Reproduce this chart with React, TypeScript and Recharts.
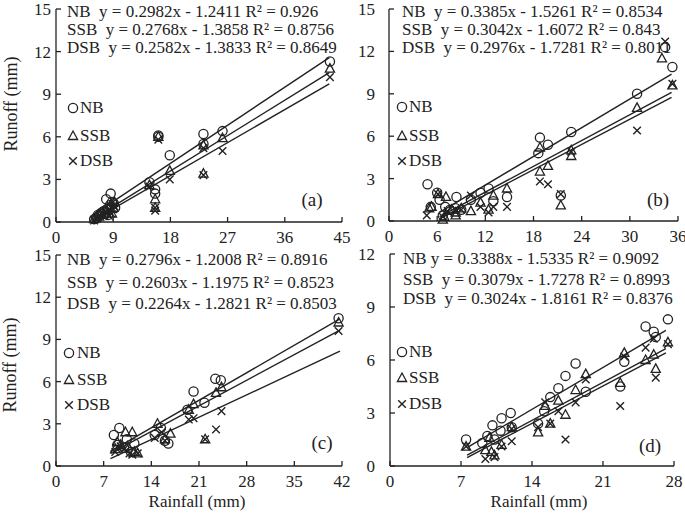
import React from "react";
import { ScatterChart, Scatter, XAxis, YAxis } from "recharts";

type P = [number, number];

// panel (a)
const aNB: P[] = [[43.1,11.3],[26.2,6.4],[23.2,6.2],[23.2,5.5],[16.1,6.1],[16.1,6.0],[17.9,4.7],[15.6,2.3],[15.6,2.0],[14.7,2.8],[8.6,2.0],[7.9,1.6],[6.0,0.2],[6.3,0.3],[6.6,0.5],[7.0,0.6],[7.3,0.7],[7.6,0.8],[8.0,0.9],[8.5,1.2],[8.8,1.4],[9.1,1.3],[9.3,1.0],[8.2,0.5]];
const aSSB: P[] = [[43.1,10.8],[26.2,5.9],[23.2,5.4],[23.2,3.4],[16.1,6.0],[17.9,3.6],[15.6,1.6],[15.6,1.0],[14.7,2.6],[8.6,1.2],[6.0,0.2],[6.5,0.35],[7.0,0.5],[7.5,0.6],[8.0,0.8],[9.0,1.0],[9.2,1.4],[8.8,0.6]];
const aDSB: P[] = [[43.1,10.2],[26.2,5.0],[23.2,5.2],[23.2,3.3],[16.1,5.8],[17.9,3.0],[15.6,0.8],[15.6,1.0],[14.7,2.5],[6.0,0.1],[6.5,0.25],[7.0,0.35],[7.5,0.5],[8.0,0.6],[8.7,0.6],[9.0,0.9],[9.2,1.1],[8.4,0.4]];
const aFits: P[][] = [[[6,0.55],[43,11.58]],[[6,0.27],[43,10.52]],[[6,0.17],[43,9.72]]];
const aEq = ["NB  y = 0.2982x - 1.2411 R² = 0.926", "SSB  y = 0.2768x - 1.3858 R² = 0.8756", "DSB  y = 0.2582x - 1.3833 R² = 0.8649"];

// panel (b)
const bNB: P[] = [[35.3,10.9],[34.4,12.3],[30.9,9.0],[22.7,6.3],[19.8,5.4],[18.8,5.9],[18.6,4.8],[21.4,1.8],[14.7,1.7],[12.4,2.3],[11.4,2.0],[13.0,1.4],[8.4,1.7],[4.8,2.6],[6.0,2.0],[6.3,1.5],[5.2,1.0],[7.0,1.0],[7.6,0.8],[8.3,0.9],[9.0,0.8],[10.2,1.5],[6.7,0.4]];
const bSSB: P[] = [[34.0,11.5],[35.3,9.6],[30.9,8.0],[22.7,4.6],[22.7,5.0],[19.8,3.9],[18.8,5.2],[18.8,3.5],[21.4,1.1],[14.7,2.3],[13.0,1.8],[12.4,0.8],[11.4,1.3],[10.2,0.7],[8.3,0.6],[8.3,0.4],[6.7,0.1],[6.9,0.3],[7.1,1.7],[6.1,1.9],[5.3,1.0],[5.0,0.9],[9.0,0.9],[7.8,0.8]];
const bDSB: P[] = [[34.4,12.7],[35.3,9.7],[30.9,6.4],[22.7,4.9],[19.8,2.6],[18.8,2.8],[21.4,1.9],[14.7,1.0],[13.0,1.0],[12.4,0.6],[11.4,1.0],[10.2,1.8],[8.3,0.8],[9.0,0.8],[6.7,0.3],[6.1,1.9],[4.7,0.4],[7.3,0.7]];
const bFits: P[][] = [[[6.3,0.61],[35.2,10.39]],[[6.3,0.31],[35.2,9.1]],[[6.3,0.15],[35.2,8.75]]];
const bEq = ["NB  y = 0.3385x - 1.5261 R² = 0.8534", "SSB  y = 0.3042x - 1.6072 R² = 0.843", "DSB  y = 0.2976x - 1.7281 R² = 0.8011"];

// panel (c)
const cNB: P[] = [[41.5,10.5],[23.4,6.2],[24.2,6.1],[20.2,5.3],[21.8,4.5],[19.3,4.0],[15.4,2.7],[16.5,1.6],[16.0,1.8],[14.5,2.2],[9.3,2.7],[8.5,2.2],[10.4,1.9],[11.5,1.6],[9.0,1.5],[10.0,1.3],[11.0,1.0]];
const cSSB: P[] = [[41.5,10.2],[24.3,5.6],[23.5,5.2],[20.2,4.4],[19.5,4.0],[21.9,1.9],[14.9,3.0],[16.8,2.3],[16.0,1.9],[11.2,2.4],[10.2,2.4],[9.0,1.7],[8.7,1.2],[9.5,1.5],[10.5,1.4],[11.5,1.0],[12.0,0.9]];
const cDSB: P[] = [[41.5,9.6],[24.3,3.9],[23.5,2.6],[20.2,3.4],[19.5,3.3],[21.9,1.9],[15.5,2.4],[14.5,2.0],[16.0,1.8],[8.7,1.0],[9.2,1.3],[10.0,1.2],[10.8,0.9],[11.2,0.8],[12.0,0.9],[9.5,1.4]];
const cFits: P[][] = [[[8,1.04],[41.7,10.46]],[[8,0.89],[41.7,9.66]],[[8,0.53],[41.7,8.16]]];
const cEq = ["NB  y = 0.2796x - 1.2008 R² = 0.8916", "SSB  y = 0.2603x - 1.1975 R² = 0.8523", "DSB  y = 0.2264x - 1.2821 R² = 0.8503"];

// panel (d)
const dNB: P[] = [[27.4,8.3],[25.2,7.9],[26.0,7.6],[26.2,7.3],[23.1,5.9],[22.7,4.5],[18.3,5.8],[17.3,5.1],[16.6,4.4],[19.3,4.2],[15.8,3.9],[15.2,3.1],[14.6,2.4],[11.9,3.0],[11.0,2.7],[10.9,2.0],[10.1,2.3],[9.6,1.7],[9.1,1.3],[7.5,1.5],[12.0,2.2],[10.3,1.5]];
const dSSB: P[] = [[27.4,7.0],[25.2,6.0],[26.0,6.3],[26.2,5.5],[23.1,6.4],[22.7,4.7],[19.3,5.2],[18.3,4.3],[17.3,2.9],[16.6,3.7],[15.3,3.4],[15.8,2.4],[14.6,1.9],[12.0,2.2],[11.0,1.2],[10.3,0.6],[10.0,0.8],[9.8,1.6],[7.5,1.1],[9.4,0.9]];
const dDSB: P[] = [[27.4,6.9],[25.2,6.7],[26.0,7.2],[26.2,5.0],[22.7,3.4],[19.3,4.9],[18.3,3.6],[17.3,1.5],[16.6,3.1],[15.3,3.6],[15.8,2.4],[14.6,2.2],[12.0,1.4],[11.0,1.1],[10.3,0.5],[9.4,0.4],[7.5,1.1],[12.0,2.1],[23.1,6.2]];
const dFits: P[][] = [[[7.6,1.04],[27.2,7.68]],[[7.6,0.61],[27.2,6.65]],[[7.6,0.48],[27.2,6.41]]];
const dEq = ["NB y = 0.3388x - 1.5335 R² = 0.9092", "SSB  y = 0.3079x - 1.7278 R² = 0.8993", "DSB  y = 0.3024x - 1.8161 R² = 0.8376"];

const legendNames = ["NB", "SSB", "DSB"];

const INK = "#222";
const FONT = '"Liberation Serif", "Times New Roman", serif';

const toObj = (arr: P[]) => arr.map(([x, y]) => ({ x, y }));

const Circle = (p: any) => <circle cx={p.cx} cy={p.cy} r={4.6} fill="none" stroke={INK} strokeWidth={1.3} />;
const Tri = (p: any) => (
  <polygon
    points={`${p.cx},${p.cy - 5} ${p.cx + 4.6},${p.cy + 3.5} ${p.cx - 4.6},${p.cy + 3.5}`}
    fill="none"
    stroke={INK}
    strokeWidth={1.3}
  />
);
const Cross = (p: any) => (
  <path
    d={`M${p.cx - 3.8},${p.cy - 3.8}L${p.cx + 3.8},${p.cy + 3.8}M${p.cx - 3.8},${p.cy + 3.8}L${p.cx + 3.8},${p.cy - 3.8}`}
    stroke={INK}
    strokeWidth={1.4}
  />
);
const Nothing = () => <g />;

const markers = [Circle, Tri, Cross];

function MarkerIcon({ kind }: { kind: number }) {
  const M = markers[kind];
  return (
    <svg width={12} height={12} style={{ position: "absolute", left: -6, top: -6, overflow: "visible" }}>
      <M cx={6} cy={6} />
    </svg>
  );
}

interface PanelProps {
  left: number;
  top: number;
  width: number;
  height: number;
  margin: { top: number; right: number; bottom: number; left: number };
  yWidth: number;
  xHeight: number;
  xMax: number;
  xTicks: number[];
  yMax: number;
  yTicks: number[];
  yGap: number;
  series: P[][];
  fits: P[][];
}

function Panel(props: PanelProps) {
  const { left, top, width, height, margin, yWidth, xHeight, xMax, xTicks, yMax, yTicks, yGap, series, fits } = props;
  const tickStyle = { fill: INK, fontSize: 17, fontFamily: FONT };
  return (
    <div style={{ position: "absolute", left, top }}>
      <ScatterChart width={width} height={height} margin={margin}>
        <XAxis
          type="number"
          dataKey="x"
          domain={[0, xMax]}
          ticks={xTicks}
          interval={0}
          height={xHeight}
          tickSize={-5}
          tickMargin={14}
          stroke={INK}
          strokeWidth={1.3}
          tick={tickStyle}
        />
        <YAxis
          type="number"
          dataKey="y"
          domain={[0, yMax]}
          ticks={yTicks}
          interval={0}
          width={yWidth}
          tickSize={-5}
          tickMargin={5 + yGap}
          stroke={INK}
          strokeWidth={1.3}
          tick={tickStyle}
        />
        {fits.map((f, i) => (
          <Scatter
            key={"fit" + i}
            data={toObj(f)}
            line={{ stroke: INK, strokeWidth: 1.4 }}
            shape={Nothing}
            isAnimationActive={false}
          />
        ))}
        {series.map((s, i) => (
          <Scatter key={"s" + i} data={toObj(s)} shape={markers[i]} isAnimationActive={false} />
        ))}
      </ScatterChart>
    </div>
  );
}

const textBase: React.CSSProperties = {
  position: "absolute",
  whiteSpace: "pre",
  fontFamily: FONT,
  color: INK,
  lineHeight: "20px",
  height: 20,
};

function Equations({ x, ys, lines }: { x: number; ys: number[]; lines: string[] }) {
  return (
    <>
      {lines.map((t, i) => (
        <div key={i} style={{ ...textBase, left: x, top: ys[i] - 10, fontSize: 17 }}>
          {t}
        </div>
      ))}
    </>
  );
}

function Legend({ mx, tx, ys }: { mx: number; tx: number; ys: number[] }) {
  return (
    <>
      {legendNames.map((n, i) => (
        <React.Fragment key={n}>
          <div style={{ position: "absolute", left: mx, top: ys[i] }}>
            <MarkerIcon kind={i} />
          </div>
          <div style={{ ...textBase, left: tx, top: ys[i] - 10, fontSize: 17 }}>{n}</div>
        </React.Fragment>
      ))}
    </>
  );
}

function Tag({ cx, cy, text }: { cx: number; cy: number; text: string }) {
  return (
    <div style={{ ...textBase, left: cx - 20, width: 40, textAlign: "center", top: cy - 11, fontSize: 19, lineHeight: "22px" }}>
      {text}
    </div>
  );
}

function YTitle({ cx, cy }: { cx: number; cy: number }) {
  return (
    <div
      style={{
        ...textBase,
        left: cx - 70,
        top: cy - 10,
        width: 140,
        textAlign: "center",
        fontSize: 18,
        transform: "rotate(-90deg)",
        transformOrigin: "50% 50%",
      }}
    >
      Runoff (mm)
    </div>
  );
}

function XTitle({ cx, cy }: { cx: number; cy: number }) {
  return (
    <div style={{ ...textBase, left: cx - 70, top: cy - 10, width: 140, textAlign: "center", fontSize: 17 }}>
      Rainfall (mm)
    </div>
  );
}

export default function App() {
  return (
    <div style={{ position: "absolute", left: 0, top: 0, width: 685, height: 516, background: "#fff", fontFamily: FONT, overflow: "hidden" }}>
      <style>{".recharts-surface{overflow:visible}"}</style>
      <Panel
        left={0}
        top={0}
        width={345}
        height={250}
        margin={{ top: 9, right: 3, bottom: 0, left: 0 }}
        yWidth={56}
        xHeight={28}
        xMax={45}
        xTicks={[0, 9, 18, 27, 36, 45]}
        yMax={15}
        yTicks={[0, 3, 6, 9, 12, 15]}
        yGap={5}
        series={[aNB, aSSB, aDSB]}
        fits={aFits}
      />
      <Panel
        left={345}
        top={0}
        width={340}
        height={250}
        margin={{ top: 9, right: 7, bottom: 0, left: 0 }}
        yWidth={44}
        xHeight={29}
        xMax={36}
        xTicks={[0, 6, 12, 18, 24, 30, 36]}
        yMax={15}
        yTicks={[0, 3, 6, 9, 12, 15]}
        yGap={14}
        series={[bNB, bSSB, bDSB]}
        fits={bFits}
      />
      <Panel
        left={0}
        top={250}
        width={345}
        height={266}
        margin={{ top: 5, right: 3, bottom: 0, left: 0 }}
        yWidth={56}
        xHeight={50}
        xMax={42}
        xTicks={[0, 7, 14, 21, 28, 35, 42]}
        yMax={15}
        yTicks={[0, 3, 6, 9, 12, 15]}
        yGap={5}
        series={[cNB, cSSB, cDSB]}
        fits={cFits}
      />
      <Panel
        left={345}
        top={250}
        width={340}
        height={266}
        margin={{ top: 4, right: 11, bottom: 0, left: 0 }}
        yWidth={45}
        xHeight={50}
        xMax={28}
        xTicks={[0, 7, 14, 21, 28]}
        yMax={12}
        yTicks={[0, 3, 6, 9, 12]}
        yGap={15}
        series={[dNB, dSSB, dDSB]}
        fits={dFits}
      />

      <Equations x={67} ys={[12, 30, 48]} lines={aEq} />
      <Equations x={402} ys={[12, 30, 48]} lines={bEq} />
      <Equations x={67} ys={[260, 283, 304]} lines={cEq} />
      <Equations x={403} ys={[259, 280, 299]} lines={dEq} />

      <Legend mx={73} tx={80} ys={[108, 136, 161]} />
      <Legend mx={402} tx={409} ys={[107, 136, 161]} />
      <Legend mx={69} tx={77} ys={[353, 380, 405]} />
      <Legend mx={402} tx={409} ys={[352, 378, 404]} />

      <Tag cx={312} cy={200} text="(a)" />
      <Tag cx={658} cy={200} text="(b)" />
      <Tag cx={322} cy={443} text="(c)" />
      <Tag cx={650} cy={446} text="(d)" />

      <YTitle cx={11} cy={104} />
      <YTitle cx={10} cy={365} />
      <XTitle cx={197} cy={502} />
      <XTitle cx={539} cy={502} />
    </div>
  );
}
